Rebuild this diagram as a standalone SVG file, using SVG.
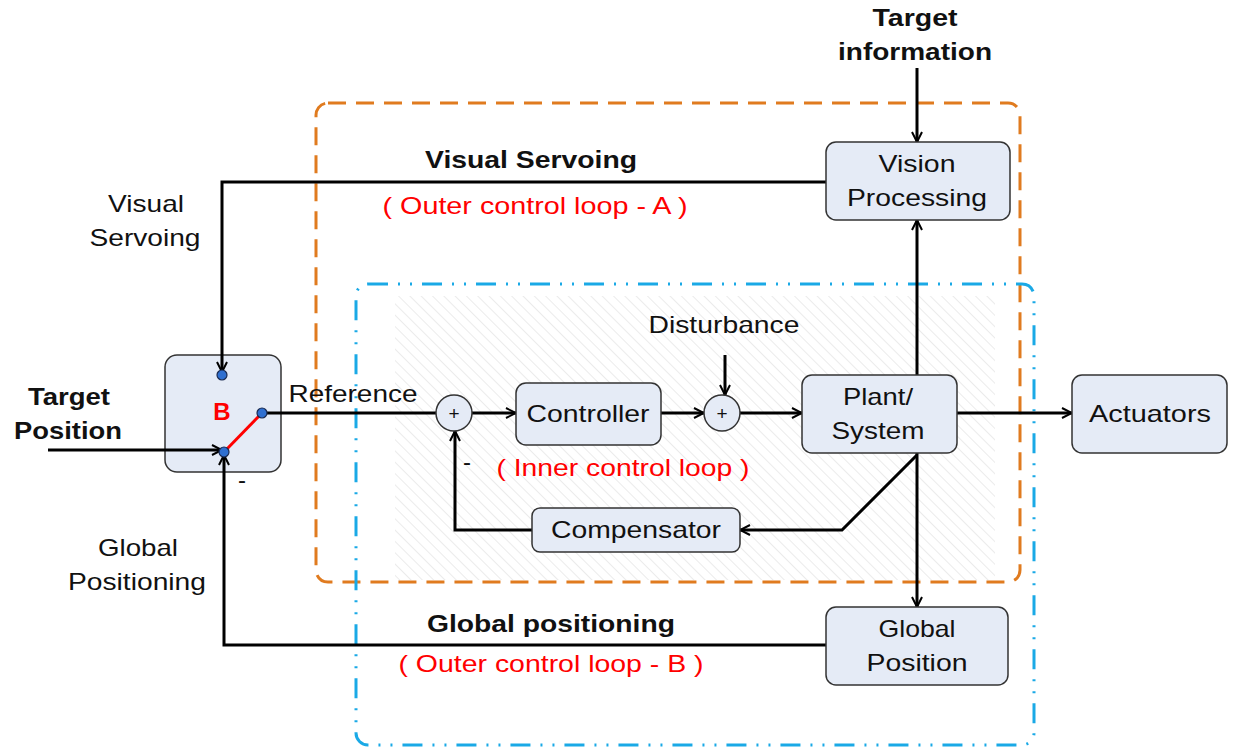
<svg xmlns="http://www.w3.org/2000/svg" width="1233" height="750" viewBox="0 0 1233 750">
<defs>
<pattern id="hatch" patternUnits="userSpaceOnUse" width="8" height="8" patternTransform="rotate(-45)">
<rect width="8" height="8" fill="#ffffff"/>
<line x1="0" y1="0" x2="0" y2="8" stroke="#d8d8d8" stroke-width="1"/>
</pattern>
<marker id="arr" viewBox="0 0 12 12" refX="11" refY="6" markerWidth="12" markerHeight="12" markerUnits="userSpaceOnUse" orient="auto">
<path d="M1,1 L11,6 L1,11" fill="none" stroke="#000" stroke-width="2"/>
</marker>
</defs>
<style>
.box{fill:#e5ebf6;stroke:#333;stroke-width:1.5}
.t{font-family:"Liberation Sans",Arial,sans-serif;font-size:24px;fill:#111;text-anchor:middle}
.b{font-weight:bold}
.r{fill:#ff0000}
.ln{fill:none;stroke:#000;stroke-width:3}
.a{marker-end:url(#arr)}
.dot{fill:#2f6fd0;stroke:#1a2a50;stroke-width:1.2}
</style>
<rect x="0" y="0" width="1233" height="750" fill="#fff"/>
<rect x="395" y="296" width="600" height="284" fill="url(#hatch)"/>
<rect id="outer-a" x="316" y="103" width="704" height="479" rx="12" fill="none" stroke="#e07b1f" stroke-width="3" stroke-dasharray="18,10"/>
<rect id="inner-b" x="356" y="284" width="678" height="461" rx="12" fill="none" stroke="#1aa9e6" stroke-width="3" stroke-dasharray="20,10,2,10,2,10"/>

<g id="switch-b">
<rect class="box" x="165" y="355" width="116" height="117" rx="12"/>
<text class="t b r" x="222" y="420">B</text>
</g>

<g id="connectors">
<path class="ln a" d="M917,68 V142"/>
<path class="ln a" d="M826,182 H222 V372"/>
<path class="ln a" d="M917,375 V220"/>
<path class="ln a" d="M917,453 V607"/>
<path class="ln a" d="M826,645 H224 V455"/>
<path class="ln a" d="M48,450 H222"/>
<path class="ln" d="M262,413 H436"/>
<path class="ln a" d="M472,413 H516"/>
<path class="ln a" d="M661,413 H704"/>
<path class="ln a" d="M725,355 V395"/>
<path class="ln a" d="M740,413 H802"/>
<path class="ln a" d="M957,413 H1072"/>
<path class="ln a" d="M917,455 L842,530 H740"/>
<path class="ln a" d="M532,530 H455 V431"/>
<line x1="224" y1="452" x2="262" y2="413" stroke="#ff0000" stroke-width="3"/>
</g>

<g id="switch-contacts">
<circle class="dot" cx="222" cy="375" r="5"/>
<circle class="dot" cx="262" cy="413" r="5"/>
<circle class="dot" cx="224" cy="452" r="5"/>
</g>
<g id="vision"><rect class="box" x="826" y="142" width="184" height="78" rx="10"/><text class="t" x="917" y="172" textLength="77" lengthAdjust="spacingAndGlyphs">Vision</text><text class="t" x="917" y="206" textLength="140" lengthAdjust="spacingAndGlyphs">Processing</text></g>
<g id="global-pos"><rect class="box" x="826" y="607" width="182" height="78" rx="10"/><text class="t" x="917" y="637" textLength="77" lengthAdjust="spacingAndGlyphs">Global</text><text class="t" x="917" y="671" textLength="101" lengthAdjust="spacingAndGlyphs">Position</text></g>
<g id="plant"><rect class="box" x="802" y="375" width="155" height="78" rx="10"/><text class="t" x="878" y="405" textLength="70" lengthAdjust="spacingAndGlyphs">Plant/</text><text class="t" x="878" y="439" textLength="93" lengthAdjust="spacingAndGlyphs">System</text></g>
<g id="actuators"><rect class="box" x="1072" y="375" width="155" height="78" rx="10"/><text class="t" x="1150" y="422" textLength="122" lengthAdjust="spacingAndGlyphs">Actuators</text></g>
<g id="controller"><rect class="box" x="516" y="383" width="145" height="62" rx="10"/><text class="t" x="588" y="422" textLength="123" lengthAdjust="spacingAndGlyphs">Controller</text></g>
<g id="compensator"><rect class="box" x="532" y="508" width="208" height="44" rx="8"/><text class="t" x="636" y="538" textLength="170" lengthAdjust="spacingAndGlyphs">Compensator</text></g>
<g id="sum1"><circle cx="454" cy="413" r="18" fill="#e5ebf6" stroke="#333" stroke-width="1.5"/><text class="t" x="454" y="420" style="font-size:19px">+</text></g>
<g id="sum2"><circle cx="722" cy="413" r="18" fill="#e5ebf6" stroke="#333" stroke-width="1.5"/><text class="t" x="722" y="420" style="font-size:19px">+</text></g>

<g id="labels">
<text class="t b" x="915" y="26" textLength="85" lengthAdjust="spacingAndGlyphs">Target</text>
<text class="t b" x="915" y="60" textLength="154" lengthAdjust="spacingAndGlyphs">information</text>
<text class="t b" x="531" y="168" textLength="212" lengthAdjust="spacingAndGlyphs">Visual Servoing</text>
<text class="t r" x="535" y="214" textLength="305" lengthAdjust="spacingAndGlyphs">( Outer control loop - A )</text>
<text class="t" x="146" y="212" textLength="76" lengthAdjust="spacingAndGlyphs">Visual</text>
<text class="t" x="145" y="246" textLength="111" lengthAdjust="spacingAndGlyphs">Servoing</text>
<text class="t b" x="69" y="405" textLength="82" lengthAdjust="spacingAndGlyphs">Target</text>
<text class="t b" x="68" y="439" textLength="108" lengthAdjust="spacingAndGlyphs">Position</text>
<text class="t" x="353" y="402" textLength="129" lengthAdjust="spacingAndGlyphs">Reference</text>
<text class="t" x="724" y="333" textLength="151" lengthAdjust="spacingAndGlyphs">Disturbance</text>
<text class="t r" x="623" y="476" textLength="253" lengthAdjust="spacingAndGlyphs">( Inner control loop )</text>
<text class="t" x="467" y="470">-</text>
<text class="t" x="242" y="488">-</text>
<text class="t" x="138" y="556" textLength="80" lengthAdjust="spacingAndGlyphs">Global</text>
<text class="t" x="137" y="590" textLength="138" lengthAdjust="spacingAndGlyphs">Positioning</text>
<text class="t b" x="551" y="632" textLength="248" lengthAdjust="spacingAndGlyphs">Global positioning</text>
<text class="t r" x="551" y="672" textLength="305" lengthAdjust="spacingAndGlyphs">( Outer control loop - B )</text>
</g>
</svg>
